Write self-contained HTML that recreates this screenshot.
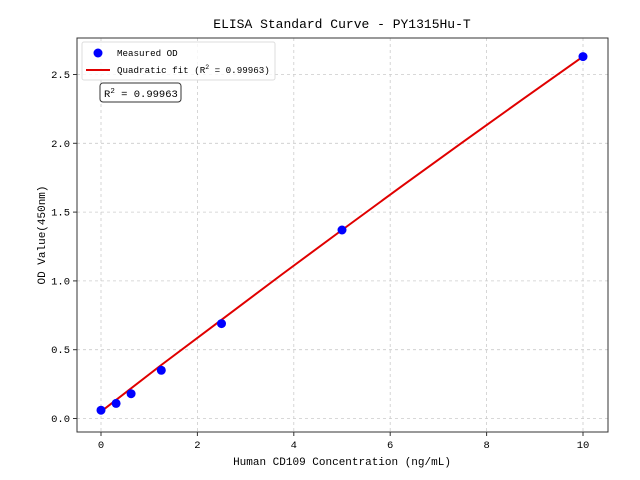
<!DOCTYPE html>
<html><head><meta charset="utf-8"><style>body{margin:0;background:#fff}svg{display:block}text{font-family:"Liberation Mono","WenQuanYi Zen Hei",monospace;fill:#000}</style></head>
<body>
<svg width="640" height="480" viewBox="0 0 640 480" xmlns="http://www.w3.org/2000/svg">
<rect width="640" height="480" fill="#fff"/>
<g stroke="#ccc" stroke-width="0.8" stroke-dasharray="3,3">
<line x1="101" y1="38" x2="101" y2="432"/><line x1="197.4" y1="38" x2="197.4" y2="432"/><line x1="293.8" y1="38" x2="293.8" y2="432"/><line x1="390.2" y1="38" x2="390.2" y2="432"/><line x1="486.6" y1="38" x2="486.6" y2="432"/><line x1="583" y1="38" x2="583" y2="432"/>
<line x1="77" y1="418.5" x2="608" y2="418.5"/><line x1="77" y1="349.7" x2="608" y2="349.7"/><line x1="77" y1="280.9" x2="608" y2="280.9"/><line x1="77" y1="212.1" x2="608" y2="212.1"/><line x1="77" y1="143.3" x2="608" y2="143.3"/><line x1="77" y1="74.5" x2="608" y2="74.5"/>
</g>
<polyline fill="none" stroke="#e00000" stroke-width="2" points="101,411.6 161.3,365 221.5,319.8 281.8,274.5 342,230 402.3,185.8 462.5,142.3 522.8,99.2 583,56.6"/>
<g fill="#0000ff">
<circle cx="101" cy="410.2" r="4.5"/><circle cx="116.1" cy="403.4" r="4.5"/><circle cx="131.1" cy="393.7" r="4.5"/><circle cx="161.3" cy="370.3" r="4.5"/><circle cx="221.5" cy="323.6" r="4.5"/><circle cx="342" cy="230" r="4.5"/><circle cx="583" cy="56.6" r="4.5"/>
</g>
<rect x="77" y="38" width="531" height="394" fill="none" stroke="#333" stroke-width="1"/>
<g stroke="#333" stroke-width="1">
<line x1="101" y1="432" x2="101" y2="436"/><line x1="197.4" y1="432" x2="197.4" y2="436"/><line x1="293.8" y1="432" x2="293.8" y2="436"/><line x1="390.2" y1="432" x2="390.2" y2="436"/><line x1="486.6" y1="432" x2="486.6" y2="436"/><line x1="583" y1="432" x2="583" y2="436"/>
<line x1="73" y1="418.5" x2="77" y2="418.5"/><line x1="73" y1="349.7" x2="77" y2="349.7"/><line x1="73" y1="280.9" x2="77" y2="280.9"/><line x1="73" y1="212.1" x2="77" y2="212.1"/><line x1="73" y1="143.3" x2="77" y2="143.3"/><line x1="73" y1="74.5" x2="77" y2="74.5"/>
</g>
<g font-size="10.5" text-anchor="middle">
<text x="101" y="448">0</text><text x="197.4" y="448">2</text><text x="293.8" y="448">4</text><text x="390.2" y="448">6</text><text x="486.6" y="448">8</text><text x="583" y="448">10</text>
</g>
<g font-size="10.5" text-anchor="end">
<text x="70" y="422">0.0</text><text x="70" y="353.2">0.5</text><text x="70" y="284.4">1.0</text><text x="70" y="215.6">1.5</text><text x="70" y="146.8">2.0</text><text x="70" y="78">2.5</text>
</g>
<text x="342" y="465" font-size="11" text-anchor="middle">Human CD109 Concentration (ng/mL)</text>
<text transform="translate(45,235) rotate(-90)" font-size="11" text-anchor="middle">OD Value(450nm)</text>
<text x="342" y="28" font-size="13" text-anchor="middle">ELISA Standard Curve - PY1315Hu-T</text>
<rect x="82" y="42" width="193" height="38" rx="2" fill="#fff" fill-opacity="0.8" stroke="#ddd"/>
<circle cx="98" cy="53" r="4.5" fill="#0000ff"/>
<text x="117" y="56" font-size="9.2">Measured OD</text>
<line x1="86" y1="70" x2="110" y2="70" stroke="#e00000" stroke-width="2"/>
<text x="117" y="73" font-size="9.2">Quadratic fit (R<tspan font-size="6.5" dy="-4">2</tspan><tspan dy="4"> = 0.99963)</tspan></text>
<rect x="100" y="83" width="81" height="19" rx="3" fill="#fff" stroke="#333"/>
<text x="104" y="97" font-size="10.5">R<tspan font-size="7.5" dy="-4">2</tspan><tspan dy="4"> = 0.99963</tspan></text>
</svg>
</body></html>
